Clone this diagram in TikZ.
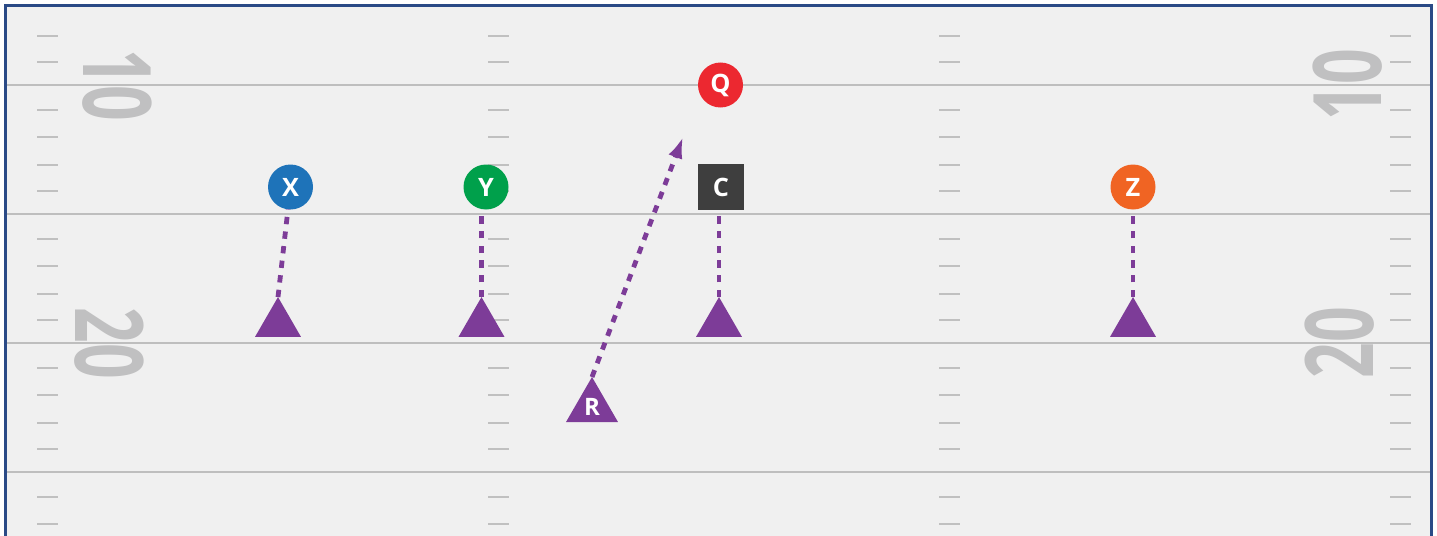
\documentclass[tikz,border=0pt]{standalone}
\usepackage{fontspec}
\setmainfont{Open Sans}
\usetikzlibrary{shapes.geometric,arrows.meta}

\definecolor{fieldbg}{RGB}{240,240,240}
\definecolor{fieldline}{RGB}{190,190,190}
\definecolor{hashcol}{RGB}{192,192,192}
\definecolor{numcol}{RGB}{192,192,193}
\definecolor{framecol}{RGB}{42,74,134}
\definecolor{routecol}{RGB}{125,60,152}
\definecolor{xblue}{RGB}{30,115,185}
\definecolor{ygreen}{RGB}{0,160,75}
\definecolor{qred}{RGB}{236,40,48}
\definecolor{zorange}{RGB}{240,100,35}
\definecolor{cgray}{RGB}{62,62,62}

\tikzset{every picture/.style={line width=0.75pt}}
\tikzset{
  player/.style={circle, minimum size=33.75pt, inner sep=0pt, outer sep=0pt, text=white, font=\fontsize{19}{19}\selectfont\bfseries},
  centerbox/.style={rectangle, fill=cgray, minimum size=34.5pt, inner sep=0pt, outer sep=0pt, text=white, font=\fontsize{19}{19}\selectfont\bfseries},
  defender/.style={regular polygon, regular polygon sides=3, fill=routecol, minimum size=39.8pt, inner sep=0pt, outer sep=0pt},
  route/.style={draw=routecol, line width=3.6pt, dash pattern=on 5.5pt off 5.5pt},
  yardline/.style={draw=fieldline, line width=1.5pt},
  hashmark/.style={draw=hashcol, line width=2pt},
  yardnum/.style={text=numcol, inner sep=0pt, font=\fontsize{71}{71}\selectfont\bfseries}
}

\begin{document}
\begin{tikzpicture}[x=0.75pt,y=0.75pt,yscale=-1,xscale=1]
\useasboundingbox (0,0) rectangle (1437,535);

%Field
\fill[fieldbg] (5.5,6) rectangle (1431,540);
\foreach \y in {85,214,343,472}
  \draw[yardline] (5.5,\y) -- (1431,\y);
\foreach \hx in {37,488,939,1390}
  \foreach \hy in {36,62,110,137,165,191,239,266,294,320,368,395,423,449,497,524}
    \draw[hashmark] (\hx,\hy) -- ++(21,0);
\draw[framecol, line width=2.25pt] (5.5,540) -- (5.5,6) -- (1431,6) -- (1431,540);

%Yard numbers
\node[yardnum, rotate=-90] (n10l) at (117,85) {\scalebox{0.66}[1]{10}};
\node[yardnum, rotate=-90] (n20l) at (109,343) {\scalebox{0.66}[1]{20}};
\node[yardnum, rotate=90] (n10r) at (1347.5,85) {\scalebox{0.66}[1]{10}};
\node[yardnum, rotate=90] (n20r) at (1339.5,343) {\scalebox{0.66}[1]{20}};

%Offense
\node[player, fill=xblue] (X) at (290.5,187) {X};
\node[player, fill=ygreen] (Y) at (486,187) {Y};
\node[player, fill=qred] (Q) at (720.5,85) {Q};
\node[player, fill=zorange] (Z) at (1133,187) {Z};
\node[centerbox] (C) at (721,187) {C};

%Defense
\node[defender] (dx) at (278,323.6) {};
\node[defender] (dy) at (481.5,323.6) {};
\node[defender] (dc) at (719,323.6) {};
\node[defender] (dz) at (1133,323.6) {};
\node[defender, minimum size=45pt, text=white, font=\fontsize{18}{18}\selectfont\bfseries] (R) at (592,407) {\raisebox{-2pt}{R}};
\coordinate (qtip) at (683,137);

%Routes
\draw[route] (dx.corner 1) -- (X);
\draw[route] (dy.corner 1) -- (dy.corner 1 |- Y.south);
\draw[route] (dc.corner 1) -- (dc.corner 1 |- C.south);
\draw[route] (dz.corner 1) -- (Z);
\draw[route, -{Latex[length=16pt,width=11pt]}] (R.corner 1) -- (qtip);

\end{tikzpicture}
\end{document}
